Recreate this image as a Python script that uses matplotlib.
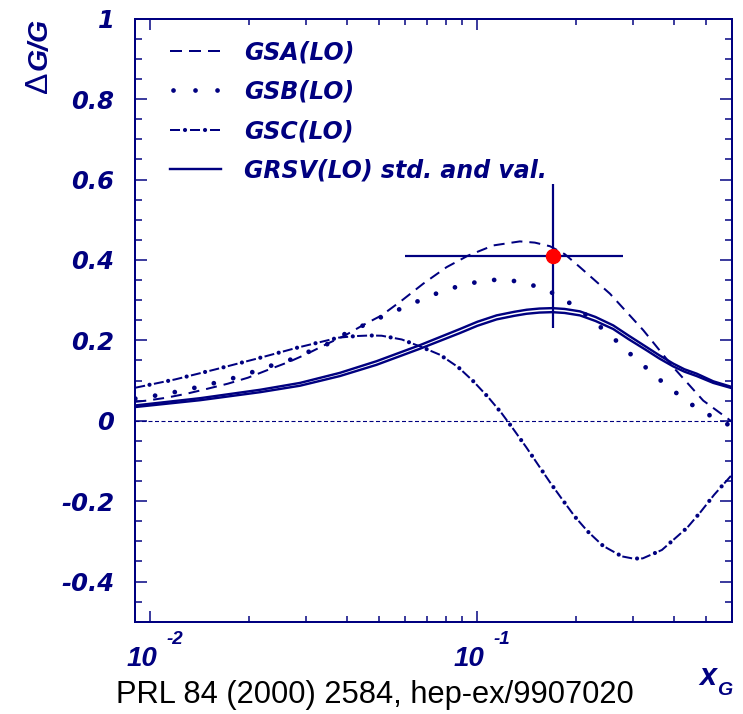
import matplotlib
matplotlib.use("Agg")
import matplotlib.pyplot as plt
import matplotlib.lines as mlines
from matplotlib.transforms import offset_copy
from matplotlib.ticker import FixedLocator, FuncFormatter, NullFormatter
from matplotlib.legend_handler import HandlerTuple

plt.rcParams["lines.scale_dashes"] = False

NAVY = "#000080"
RED = "#ff0000"
PX = 72.0 / 100.0  # points per pixel at dpi=100

# ---------------- data ----------------
# GSA(LO)
x_gsa = [0.009, 0.00976, 0.01117, 0.0129, 0.01488, 0.01726, 0.0199, 0.0230, 0.0265,
         0.0301, 0.0347, 0.0394, 0.0448, 0.0510, 0.0590, 0.0684, 0.0806, 0.0939,
         0.112, 0.135, 0.150, 0.1669, 0.1854, 0.206, 0.2545, 0.322, 0.3976, 0.491, 0.6]
y_gsa = [0.047, 0.050, 0.057, 0.067, 0.079, 0.092, 0.107, 0.127, 0.146,
         0.166, 0.191, 0.212, 0.238, 0.262, 0.300, 0.341, 0.382, 0.411,
         0.436, 0.446, 0.443, 0.434, 0.414, 0.382, 0.316, 0.225, 0.133, 0.050, -0.002]

# GSB(LO)
x_gsb = [0.009, 0.0097, 0.0112, 0.0129, 0.0149, 0.0173, 0.0199, 0.0230, 0.0265, 0.0304,
         0.0354, 0.0394, 0.0448, 0.0516, 0.0593, 0.0679, 0.078, 0.0898, 0.1039, 0.1208,
         0.139, 0.1607, 0.183, 0.2085, 0.235, 0.262, 0.292, 0.327, 0.365, 0.418, 0.471,
         0.537, 0.6]
y_gsb = [0.055, 0.0585, 0.067, 0.077, 0.089, 0.102, 0.117, 0.135, 0.150, 0.171,
         0.193, 0.216, 0.237, 0.260, 0.281, 0.302, 0.322, 0.337, 0.348, 0.352,
         0.343, 0.328, 0.304, 0.272, 0.237, 0.204, 0.168, 0.133, 0.099, 0.061, 0.030,
         0.005, -0.014]

# GSC(LO)
x_gsc = [0.009, 0.0119, 0.0158, 0.0211, 0.0281, 0.0376, 0.0425, 0.0470, 0.0510, 0.0588,
         0.0677, 0.0769, 0.0875, 0.0973, 0.108, 0.1187, 0.1294, 0.1412, 0.1536, 0.1668,
         0.182, 0.199, 0.218, 0.2427, 0.277, 0.300, 0.3206, 0.367, 0.4387, 0.482,
         0.5298, 0.583, 0.6]
y_gsc = [0.082, 0.1026, 0.1275, 0.154, 0.1815, 0.2065, 0.2105, 0.212, 0.2114, 0.202,
         0.183, 0.164, 0.133, 0.098, 0.0585, 0.0187, -0.0227, -0.066, -0.110, -0.153,
         -0.196, -0.239, -0.276, -0.3116, -0.3375, -0.343, -0.3425, -0.3216, -0.266,
         -0.227, -0.1846, -0.1465, -0.135]

# GRSV(LO) standard and valence scenarios
x_grsv = [0.009, 0.0142, 0.0217, 0.0287, 0.038, 0.0492, 0.0668, 0.0885, 0.100, 0.1146,
          0.130, 0.1416, 0.155, 0.1696, 0.185, 0.206, 0.230, 0.2606, 0.290, 0.3296,
          0.360, 0.3976, 0.430, 0.469, 0.527, 0.6]
y_grsv_std = [0.038, 0.056, 0.077, 0.094, 0.119, 0.148, 0.188, 0.228, 0.246, 0.262,
              0.271, 0.276, 0.279, 0.280, 0.278, 0.272, 0.258, 0.237, 0.212, 0.183,
              0.163, 0.142, 0.128, 0.117, 0.098, 0.084]
y_grsv_val = [0.034, 0.051, 0.071, 0.087, 0.111, 0.139, 0.179, 0.218, 0.236, 0.252,
              0.261, 0.266, 0.269, 0.270, 0.268, 0.262, 0.248, 0.228, 0.203, 0.175,
              0.155, 0.135, 0.122, 0.111, 0.094, 0.081]

# HERMES measurement
x_meas = 0.17
x_meas_lo = 0.06
x_meas_hi = 0.28
y_meas = 0.41
y_meas_err = 0.18

legend_labels = ["GSA(LO)", "GSB(LO)", "GSC(LO)", "GRSV(LO) std. and val."]
ytick_vals = [-0.4, -0.2, 0.0, 0.2, 0.4, 0.6, 0.8, 1.0]
xtick_vals = [0.01, 0.1]
xtick_exps = ["-2", "-1"]
caption = "PRL 84 (2000) 2584, hep-ex/9907020"

# ---------------- fonts ----------------
f_tick = dict(family="DejaVu Sans", weight="bold", style="oblique", size=17.5)
f_leg = dict(family="DejaVu Sans", weight="bold", style="oblique", size=17)
f_hb = dict(family="Liberation Sans", weight="bold", style="italic")

# ---------------- figure ----------------
W, H = 743, 714
fig = plt.figure(figsize=(W / 100, H / 100), dpi=100)
L, R, T, B = 135.3, 731.7, 18.7, 621.7
ax = fig.add_axes([L / W, 1 - B / H, (R - L) / W, (B - T) / H])

ax.set_xscale("log")
ax.set_xlim(0.009, 0.6)
ax.set_ylim(-0.5, 1.0)

# GSA: dashed
ax.plot(x_gsa, y_gsa, color=NAVY, lw=2.0 * PX, linestyle=(0, (11 * PX, 7 * PX)))
# GSB: dotted
ax.plot(x_gsb, y_gsb, color=NAVY, lw=4.8 * PX, linestyle=(0, (0.01, 20 * PX)),
        dash_capstyle="round")
# GSC: dash-dot (dash strokes + heavier dots)
ax.plot(x_gsc, y_gsc, color=NAVY, lw=2.0 * PX, linestyle=(0, (10 * PX, 9 * PX)))
ax.plot(x_gsc, y_gsc, color=NAVY, lw=4.2 * PX,
        linestyle=(4.5 * PX, (0.01, 19 * PX)), dash_capstyle="round")
# GRSV: two solid lines
ax.plot(x_grsv, y_grsv_std, color=NAVY, lw=2.4 * PX)
ax.plot(x_grsv, y_grsv_val, color=NAVY, lw=2.4 * PX)

# zero line
ax.axhline(0.0, color=NAVY, lw=1.1 * PX, linestyle=(0, (4 * PX, 2.5 * PX)))

# measurement with error bars
ax.errorbar([x_meas], [y_meas], yerr=[[y_meas_err], [y_meas_err]],
            xerr=[[x_meas - x_meas_lo], [x_meas_hi - x_meas]],
            fmt="none", ecolor=NAVY, elinewidth=2.2 * PX, capsize=0, zorder=5)
ax.plot([x_meas], [y_meas], "o", color=RED, markersize=14 * PX, mec=RED, zorder=6)

# legend
h_gsa = mlines.Line2D([], [], color=NAVY, lw=2.0 * PX, linestyle=(0, (12 * PX, 7 * PX)))
h_gsb = mlines.Line2D([], [], color=NAVY, lw=4.8 * PX, linestyle=(-3 * PX, (0.01, 22 * PX)),
                      dash_capstyle="round")
h_gsc_a = mlines.Line2D([], [], color=NAVY, lw=2.0 * PX, linestyle=(0, (10 * PX, 10 * PX)))
h_gsc_b = mlines.Line2D([], [], color=NAVY, lw=4.2 * PX,
                        linestyle=(5 * PX, (0.01, 20 * PX)), dash_capstyle="round")
h_grsv = mlines.Line2D([], [], color=NAVY, lw=2.4 * PX)
leg = ax.legend([h_gsa, h_gsb, (h_gsc_a, h_gsc_b), h_grsv], legend_labels,
                handler_map={tuple: HandlerTuple(ndivide=1)},
                loc="upper left", bbox_to_anchor=(0.058, 0.964), frameon=False,
                borderpad=0, borderaxespad=0, handlelength=2.16, handletextpad=0.98,
                labelspacing=0.65, prop=f_leg)
for t in leg.get_texts():
    t.set_color(NAVY)

# spines and ticks
for s in ax.spines.values():
    s.set_color(NAVY)
    s.set_linewidth(2.0 * PX)

ax.xaxis.set_major_locator(FixedLocator(xtick_vals))
ax.xaxis.set_minor_locator(FixedLocator([0.02, 0.03, 0.04, 0.05, 0.06, 0.07, 0.08, 0.09,
                                         0.2, 0.3, 0.4, 0.5]))
ax.xaxis.set_major_formatter(NullFormatter())
ax.xaxis.set_minor_formatter(NullFormatter())
ax.tick_params(axis="x", which="major", direction="in", top=True, bottom=True,
               length=11 * PX, width=1.5 * PX, color=NAVY)
ax.tick_params(axis="x", which="minor", direction="in", top=True, bottom=True,
               length=6 * PX, width=1.5 * PX, color=NAVY)

ax.yaxis.set_major_locator(FixedLocator(ytick_vals))
ax.yaxis.set_minor_locator(FixedLocator([v / 100 for v in range(-50, 101, 5)]))


def ylab(v, pos):
    if abs(v) < 1e-9:
        return "0"
    if abs(v - 1.0) < 1e-9:
        return "1"
    return "%.1f" % v


ax.yaxis.set_major_formatter(FuncFormatter(ylab))
ax.tick_params(axis="y", which="major", direction="in", left=True, right=True,
               length=12 * PX, width=1.5 * PX, color=NAVY, pad=15,
               labelcolor=NAVY)
ax.tick_params(axis="y", which="minor", direction="in", left=True, right=True,
               length=7 * PX, width=1.5 * PX, color=NAVY)
for lab in ax.get_yticklabels():
    lab.set_fontfamily(f_tick["family"])
    lab.set_fontweight(f_tick["weight"])
    lab.set_fontstyle(f_tick["style"])
    lab.set_fontsize(f_tick["size"])

# x tick labels written as 10 with raised exponent
for xv, ex in zip(xtick_vals, xtick_exps):
    tr_base = offset_copy(ax.get_xaxis_transform(), fig=fig, x=-8, y=-44, units="dots")
    ax.text(xv, 0, "10", transform=tr_base, ha="center", va="baseline",
            color=NAVY, fontsize=20, **f_hb)
    tr_exp = offset_copy(ax.get_xaxis_transform(), fig=fig, x=16, y=-22, units="dots")
    ax.text(xv, 0, ex, transform=tr_exp, ha="left", va="baseline",
            color=NAVY, fontsize=13.5, **f_hb)

# axis titles
fig.text(699 / W, 1 - 685 / H, "x", color=NAVY, fontsize=22, ha="left", va="baseline", **f_hb)
fig.text(717 / W, 1 - 695 / H, "G", color=NAVY, fontsize=14, ha="left", va="baseline", **f_hb)
fig.text(40 / W, 1 - 18 / H, "G/G", rotation=90, color=NAVY, fontsize=20.5,
         ha="center", va="top", **f_hb)
fig.text(39 / W, 1 - 93 / H, "\u0394", rotation=90, color=NAVY, fontsize=23,
         family="Liberation Sans", ha="center", va="bottom")

fig.text(375 / W, 1 - 703 / H, caption, color="black", fontsize=22.2,
         family="Liberation Sans", ha="center", va="baseline")

fig.savefig("out.png", dpi=100)
